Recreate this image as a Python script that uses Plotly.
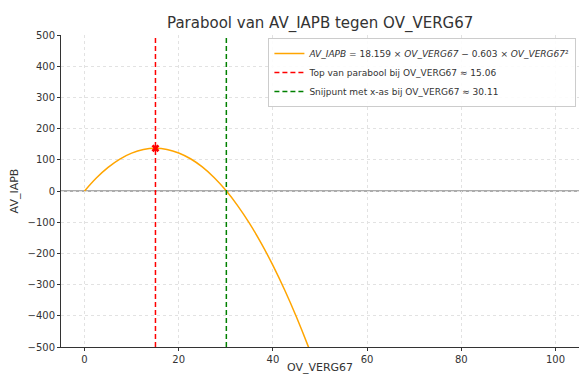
import plotly.graph_objects as go

# Curve values (AV_IAPB vs OV_VERG67)
x_vals = [0, 2.5, 5, 7.5, 10, 12.5, 15, 17.5, 20, 22.5, 25, 27.5, 30, 32.5, 35,
          37.5, 40, 42.5, 45, 47.5, 50]
y_vals = [0, 41.6, 75.7, 102.3, 121.3, 132.8, 136.7, 133.1, 122.0, 103.3, 77.1,
          43.4, 2.1, -46.8, -103.1, -167.0, -238.4, -317.4, -403.9, -498.0, -599.6]
top_x = 15.06
top_y = 136.7
root_x = 30.11
x_ticks = [0, 20, 40, 60, 80, 100]
y_ticks = [-500, -400, -300, -200, -100, 0, 100, 200, 300, 400, 500]

FONT = "DejaVu Sans"
fig = go.Figure()

fig.add_trace(go.Scatter(
    x=x_vals, y=y_vals, mode="lines", line=dict(color="#FFA500", width=1.5, shape="spline"),
    name="<i>AV_IAPB</i> = 18.159 × <i>OV_VERG67</i> − 0.603 × <i>OV_VERG67</i>²",
))
fig.add_trace(go.Scatter(
    x=[top_x, top_x], y=[-500, 500], mode="lines",
    line=dict(color="#FF0000", width=1.5, dash="5px,3px"),
    name="Top van parabool bij OV_VERG67 ≈ 15.06",
))
fig.add_trace(go.Scatter(
    x=[root_x, root_x], y=[-500, 500], mode="lines",
    line=dict(color="#008000", width=1.5, dash="5px,3px"),
    name="Snijpunt met x-as bij OV_VERG67 ≈ 30.11",
))
fig.add_trace(go.Scatter(
    x=[top_x], y=[top_y], mode="markers",
    marker=dict(symbol="x", color="#FF0000", size=7, line=dict(width=0)),
    showlegend=False,
))

fig.add_hline(y=0, line=dict(color="#909090", width=1.3), layer="below")

fig.update_layout(
    width=579, height=374,
    margin=dict(l=61, r=0, t=35, b=27),
    paper_bgcolor="white", plot_bgcolor="white",
    font=dict(family=FONT, size=10, color="#333333"),
    title=dict(text="Parabool van AV_IAPB tegen OV_VERG67", x=0.553, xanchor="center",
               y=0.94, yanchor="middle", font=dict(size=15, color="#333333")),
    showlegend=True,
    legend=dict(x=0.995, y=0.99, xanchor="right", yanchor="top",
                bgcolor="rgba(255,255,255,0.9)", bordercolor="#cccccc", borderwidth=1,
                font=dict(size=9, color="#333333"), tracegroupgap=0,
                itemwidth=30),
)
fig.update_xaxes(
    range=[-5, 105], tickvals=x_ticks, ticks="outside", ticklen=3, tickcolor="#333333",
    showline=True, linecolor="#333333", linewidth=1, mirror=False,
    showgrid=True, gridcolor="#e2e2e2", griddash="dot", gridwidth=1, zeroline=False,
    title=dict(text="OV_VERG67", standoff=2, font=dict(size=11)),
)
fig.update_yaxes(
    range=[-500, 500], tickvals=y_ticks, ticks="outside", ticklen=3, tickcolor="#333333",
    showline=True, linecolor="#333333", linewidth=1, mirror=False,
    showgrid=True, gridcolor="#e2e2e2", griddash="dot", gridwidth=1, zeroline=False,
    title=dict(text="AV_IAPB", standoff=6, font=dict(size=11)),
    tickformat="d", exponentformat="none",
)
fig.write_html("out.html")
